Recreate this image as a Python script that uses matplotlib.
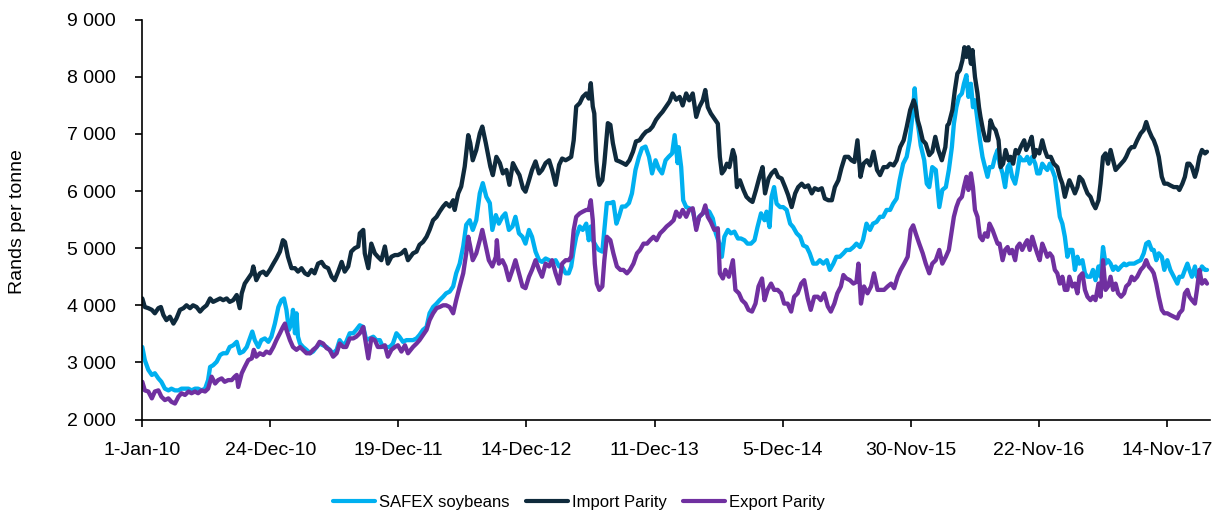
import matplotlib
matplotlib.use("Agg")
import matplotlib.pyplot as plt
from matplotlib.ticker import FixedLocator, FuncFormatter

# ---------------- data (trading-day number, Rand per tonne) ----------------
tick_days = [0, 255, 510, 765, 1020, 1275, 1530, 1785, 2040]
tick_labels = ["1-Jan-10", "24-Dec-10", "19-Dec-11", "14-Dec-12", "11-Dec-13",
               "5-Dec-14", "30-Nov-15", "22-Nov-16", "14-Nov-17"]
y_ticks = [2000, 3000, 4000, 5000, 6000, 7000, 8000, 9000]

safex = [(0,3270),(5,3040),(12,2870),(19,2780),(25,2810),(32,2720),(38,2660),(45,2540),(52,2510),(58,2540),
 (65,2510),(72,2510),(78,2540),(85,2540),(92,2540),(98,2510),(105,2540),(111,2540),(118,2510),(125,2540),
 (131,2690),(135,2920),(141,2950),(148,3010),(155,3130),(161,3160),(168,3160),(174,3270),(181,3300),(188,3360),
 (194,3160),(201,3190),(208,3270),(214,3420),(219,3540),(224,3390),(231,3270),(237,3390),(244,3420),(251,3360),
 (257,3450),(264,3680),(271,3970),(277,4090),(282,4120),(287,3920),(292,3570),(297,3680),(300,3920),(304,3510),
 (307,3860),(310,3450),(314,3330),(320,3270),(327,3220),(334,3160),(340,3190),(347,3270),(353,3330),(360,3300),
 (367,3270),(373,3220),(380,3160),(387,3220),(393,3390),(400,3300),(406,3360),(413,3510),(420,3510),(426,3570),
 (433,3650),(440,3620),(446,3390),(453,3420),(460,3450),(466,3390),(473,3390),(479,3270),(486,3270),(493,3270),
 (499,3330),(506,3510),(512,3450),(519,3360),(526,3390),
 (539,3390),(546,3420),(552,3480),(559,3570),(566,3620),(572,3860),(579,3970),(586,4030),(592,4090),(599,4150),
 (605,4210),(612,4240),(619,4330),(625,4560),(632,4730),(639,5030),(645,5410),(652,5490),(658,5320),(665,5490),
 (672,5960),(678,6140),(685,5900),(692,5790),(697,5320),(704,5580),(710,5430),(717,5550),(723,5610),(730,5320),
 (737,5380),(743,5550),(750,5260),(757,5200),(763,5080),(770,5320),(776,5200),(783,4940),(790,4790),(796,4760),
 (803,4820),(810,4790),(816,4760),(823,4790),(830,4680),(836,4680),(843,4560),(849,4560),(854,4680),(859,4970),
 (864,5200),(871,5380),(877,5320),(884,5430),(889,5140),(893,5380),(897,5140),(904,5030),(909,4970),(916,4940),
 (920,5320),(925,5790),(932,5790),(938,5810),(944,5430),(949,5550),(955,5730),(962,5730),(969,5790),(975,5960),
 (982,6370),(989,6600),(995,6750),(1002,6780),(1009,6600),(1015,6310),(1022,6540),(1028,6400),(1035,6310),(1042,6540),
 (1048,6600),(1055,6660),(1060,6980),(1066,6490),(1068,6770),(1073,6420),
 (1077,5840),(1083,5720),(1089,5700),(1096,5670),(1103,5370),(1109,5550),(1116,5610),(1123,5670),(1129,5640),(1136,5520),
 (1142,5260),(1149,5080),(1154,4850),(1159,5200),(1166,5320),(1172,5260),(1179,5290),(1186,5170),(1192,5170),(1199,5140),
 (1205,5080),(1212,5080),(1219,5140),(1225,5370),(1232,5610),(1239,5490),(1243,5640),(1249,5370),(1253,5900),(1258,6070),
 (1263,5780),(1270,5720),(1276,5720),(1283,5670),(1290,5430),(1296,5370),(1303,5260),(1310,5200),(1316,5050),(1323,5020),
 (1329,4910),(1336,4730),(1343,4730),(1349,4790),(1356,4730),(1363,4790),(1369,4620),(1376,4730),(1382,4850),(1389,4850),
 (1396,4910),(1402,4970),(1409,4970),(1416,5020),(1422,5080),(1429,5020),(1435,5140),(1442,5430),(1449,5320),(1455,5430),
 (1462,5460),(1469,5550),(1475,5550),(1482,5670),(1489,5670),(1495,5780),(1502,5870),(1508,6190),(1515,6480),(1522,6600),
 (1528,6890),(1534,7360),(1538,7800),(1542,7300),(1546,7070),(1550,6800),(1557,6540),(1562,6130),(1567,6070),(1573,6420),
 (1580,6370),(1587,5720),(1593,6020),(1600,6070),
 (1606,6370),(1612,6770),(1616,7180),(1621,7470),(1626,7650),(1632,7710),(1636,7880),(1641,8030),(1645,7650),(1650,7880),
 (1654,7470),(1658,7590),(1663,7240),(1668,6890),(1673,6600),(1678,6420),(1683,6250),(1687,6420),(1693,6420),(1698,6600),
 (1703,6720),(1707,6480),(1713,6310),(1718,6070),(1723,6420),(1727,6480),(1732,6250),(1738,6130),(1742,6310),(1747,6600),
 (1752,6540),(1758,6540),(1762,6600),(1767,6480),(1772,6600),(1778,6480),(1782,6310),(1787,6310),(1792,6480),(1797,6420),
 (1802,6370),(1807,6480),(1812,6370),(1817,6250),(1822,5900),(1827,5550),(1832,5430),(1837,5200),(1842,4850),(1846,4970),
 (1852,4970),(1857,4620),(1862,4850),(1866,4730),(1872,4790),(1877,4560),(1882,4500),(1888,4500),(1893,4620),(1898,4440),
 (1904,4680),(1908,4500),(1913,5020),(1918,4730),(1923,4790),(1928,4730),(1933,4620),(1938,4680),(1943,4620),(1949,4680),
 (1955,4730),(1959,4700),(1965,4730),(1970,4730),(1975,4730),(1981,4760),(1988,4790),(1994,4910),(1999,5080),(2004,5110),
 (2010,4970),(2014,4970),(2019,4790),(2024,4910),(2030,4850),(2035,4620),(2041,4790),(2047,4620),(2054,4500),(2061,4380),
 (2065,4500),(2071,4500),(2076,4620),(2081,4730),(2085,4620),(2090,4500),(2096,4680),(2100,4500),(2105,4560),(2110,4680),
 (2116,4620),(2120,4620)]

import_parity = [(0,4120),(5,3970),(12,3950),(19,3920),(25,3860),(32,3950),(37,3970),(42,3830),(48,3740),(55,3800),
 (62,3680),(68,3770),(75,3920),(82,3950),(88,4000),(95,3950),(101,4000),(108,3970),(115,3890),(121,3950),
 (128,4000),(135,4120),(141,4060),(148,4090),(155,4120),(161,4090),(168,4120),(174,4060),(181,4090),(188,4180),
 (194,3950),(198,4210),(204,4380),(211,4470),(218,4560),(221,4680),(227,4440),(234,4560),(241,4590),(247,4530),
 (254,4620),(261,4730),(267,4820),(274,4940),(280,5140),(284,5110),(290,4850),(297,4650),(304,4650),(310,4590),
 (317,4650),(324,4560),(330,4530),(337,4620),(343,4560),(350,4730),(357,4760),(363,4680),(370,4650),(377,4500),
 (383,4440),(390,4590),(397,4760),(403,4590),(410,4680),(416,4940),(423,5000),(430,5030),(433,5260),(440,5320),
 (443,4910),(450,4650),(456,5080),(463,4910),(469,4850),(476,4790),(483,5030),(489,4730),(496,4850),(503,4880),
 (509,4880),(516,4910),(523,4970),(529,4790),
 (539,4910),(546,4940),(552,5060),(559,5110),(566,5200),(572,5320),(579,5490),(586,5550),(592,5640),(599,5730),
 (605,5790),(612,5730),(619,5840),(622,5670),(629,5960),(635,6080),(642,6430),(649,6980),(653,6840),(658,6540),
 (665,6720),(672,7010),(677,7130),(684,6840),(688,6660),(693,6430),(698,6280),(705,6600),(712,6490),(718,6310),
 (725,6370),(731,6110),(738,6490),(745,6370),(751,6280),(758,6050),(763,5990),(770,6190),(776,6370),(783,6520),
 (790,6310),(796,6370),(803,6490),(810,6540),(816,6370),(823,6110),(830,6460),(836,6570),(843,6540),(849,6570),
 (854,6600),(859,6890),(864,7480),(871,7540),(877,7650),(884,7710),(889,7620),(893,7890),(897,7480),(900,7360),
 (904,6540),(907,6250),(910,6110),(916,6190),(920,6490),(927,7190),(932,7160),(937,6840),(944,6540),(950,6520),
 (957,6490),(963,6460),(970,6540),(977,6690),(983,6870),(990,6890),(997,6980),(1003,7040),(1010,7070),(1016,7130),
 (1023,7250),(1030,7330),(1036,7390),(1043,7480),(1050,7570),(1056,7710),(1063,7600),(1070,7650),
 (1076,7500),(1083,7710),(1089,7590),(1096,7710),(1103,7300),(1109,7470),(1116,7590),(1121,7770),(1126,7470),(1132,7360),
 (1139,7270),(1146,7180),(1150,6600),(1154,6310),(1159,6370),(1164,6480),(1169,6420),(1176,6720),(1180,6600),(1184,6070),
 (1190,6190),(1197,6020),(1203,5900),(1210,5840),(1215,5810),(1222,6020),(1229,6250),(1235,6420),(1240,5960),(1247,6220),
 (1253,6310),(1260,6370),(1266,6250),(1273,6220),(1280,6070),(1286,5930),(1293,5720),(1300,5960),(1306,6070),(1313,6130),
 (1319,6070),(1326,6100),(1333,5960),(1339,6050),(1346,6020),(1353,6050),(1359,5870),(1366,5840),(1373,5840),(1379,6070),
 (1386,6190),(1392,6400),(1399,6600),(1406,6600),(1412,6540),(1418,6510),(1424,6890),(1430,6250),(1436,6480),(1443,6540),
 (1449,6450),(1456,6690),(1463,6370),(1469,6280),(1476,6420),(1483,6420),(1489,6480),(1496,6450),(1502,6540),(1509,6770),
 (1516,6890),(1522,7120),(1529,7420),(1536,7590),(1540,7470),(1544,7240),(1548,7120),(1554,6890),(1560,6830),(1567,6630),
 (1573,6690),(1579,6950),(1585,6720),(1592,6540),(1599,6770),(1603,7150),
 (1606,7180),(1613,7420),(1618,7770),(1623,8060),(1628,8120),(1633,8290),(1637,8520),(1641,8350),(1645,8520),(1650,8230),
 (1653,8470),(1658,8000),(1663,7710),(1666,7470),(1669,7300),(1674,7070),(1679,6890),(1685,6890),(1689,7240),(1694,7120),
 (1699,7070),(1705,6890),(1709,6420),(1714,6480),(1719,6720),(1725,6540),(1729,6600),(1734,6480),(1739,6720),(1744,6660),
 (1749,6770),(1756,6890),(1760,6720),(1766,6830),(1771,6950),(1776,6600),(1780,6720),(1786,6660),(1792,6890),(1797,6720),
 (1802,6600),(1809,6600),(1815,6480),(1822,6420),(1827,6250),(1832,6130),(1837,5900),(1842,6070),(1846,6190),(1852,6070),
 (1857,5960),(1862,6070),(1866,6250),(1872,6190),(1877,6070),(1882,5960),(1888,5900),(1893,5780),(1898,5700),(1904,5840),
 (1908,6130),(1913,6600),(1918,6660),(1923,6480),(1928,6720),(1933,6540),(1938,6370),(1943,6420),(1949,6480),(1955,6540),
 (1959,6600),(1965,6720),(1970,6770),(1975,6770),(1981,6890),(1988,7010),(1994,7070),(1999,7210),(2004,7070),(2010,6950),
 (2014,6890),(2019,6770),(2024,6600),(2030,6250),(2035,6130),(2041,6130),(2047,6100),(2054,6070),(2061,6070),(2065,6020),
 (2071,6130),(2076,6250),(2081,6480),(2085,6480),(2090,6420),(2096,6250),(2100,6370),(2105,6600),(2110,6720),(2116,6660),
 (2120,6690)]

export_parity = [(0,2660),(5,2510),(12,2490),(19,2370),(25,2490),(32,2510),(38,2400),(45,2340),(52,2370),(58,2310),
 (65,2280),(72,2400),(78,2460),(85,2430),(92,2490),(98,2460),(105,2490),(111,2460),(118,2510),(125,2490),
 (131,2540),(138,2750),(145,2630),(151,2690),(158,2720),(164,2660),(171,2690),(178,2690),(184,2750),(188,2780),
 (191,2570),(198,2810),(204,2920),(211,3040),(218,3070),(222,3220),(227,3100),(234,3160),(241,3130),(247,3190),
 (254,3160),(261,3270),(267,3390),(274,3510),(280,3620),(284,3680),(287,3570),(294,3390),(300,3270),(307,3220),
 (314,3270),(320,3220),(327,3160),(334,3160),(340,3220),(347,3270),(353,3360),(360,3330),(367,3250),(373,3220),
 (380,3100),(387,3160),(393,3330),(400,3270),(406,3270),(413,3420),(420,3420),(426,3450),(433,3510),(440,3620),
 (443,3450),(450,3070),(456,3420),(463,3390),(469,3270),(476,3270),(483,3300),(489,3100),(496,3220),(503,3270),
 (509,3300),(516,3190),(523,3300),(529,3160),
 (539,3270),(546,3330),(552,3390),(559,3480),(566,3570),(572,3740),(579,3860),(586,3950),(592,3970),(599,4000),
 (605,4000),(612,3970),(619,3860),(625,4090),(632,4330),(639,4560),(645,4910),(649,5200),(653,5030),(658,4790),
 (665,4910),(672,5140),(677,5320),(684,5030),(690,4790),(697,4680),(704,4850),(706,5140),(710,4730),(717,4790),
 (723,4680),(730,4440),(737,4620),(743,4790),(750,4560),(757,4330),(763,4300),(770,4500),(776,4620),(783,4790),
 (790,4620),(796,4500),(803,4730),(810,4680),(816,4790),(823,4560),(830,4380),(836,4730),(843,4790),(849,4790),
 (854,4850),(859,5320),(864,5550),(871,5610),(877,5640),(884,5670),(889,5670),(893,5840),(897,5490),(901,4730),
 (905,4380),(910,4270),(916,4330),(920,4790),(925,5200),(932,5140),(938,4910),(945,4680),(952,4620),(958,4620),
 (965,4560),(971,4620),(978,4730),(985,4910),(991,4970),(998,5080),(1005,5080),(1011,5140),(1018,5200),(1024,5140),
 (1031,5260),(1038,5320),(1044,5380),(1051,5430),(1058,5490),(1063,5640),(1070,5550),
 (1076,5670),(1083,5550),(1089,5670),(1096,5700),(1103,5320),(1109,5550),(1116,5610),(1121,5750),(1126,5550),(1132,5460),
 (1139,5320),(1146,5350),(1150,4560),(1156,4470),(1161,4620),(1168,4500),(1176,4790),(1181,4270),(1188,4210),(1194,4090),
 (1201,4030),(1207,3920),(1214,3890),(1221,4030),(1227,4330),(1234,4470),(1239,4090),(1245,4270),(1252,4380),(1258,4270),
 (1265,4270),(1272,4210),(1278,4030),(1285,4030),(1292,3890),(1298,4150),(1305,4210),(1312,4380),(1318,4440),(1325,4120),
 (1331,3920),(1338,4150),(1345,4150),(1351,4090),(1358,4210),(1365,3980),(1371,3890),(1378,4030),(1384,4210),(1391,4330),
 (1396,4530),(1402,4470),(1409,4440),(1416,4380),(1422,4410),(1426,4730),(1431,4030),(1437,4330),(1444,4210),(1451,4330),
 (1457,4560),(1464,4270),(1471,4270),(1477,4270),(1484,4330),(1491,4380),(1497,4300),(1504,4500),(1510,4620),(1517,4730),
 (1524,4850),(1530,5320),(1535,5400),(1540,5260),(1547,5080),(1554,4910),(1560,4730),(1567,4560),(1573,4730),(1580,4790),
 (1587,4970),(1593,4730),(1600,4850),
 (1606,4970),(1612,5320),(1616,5550),(1621,5720),(1626,5840),(1632,5900),(1636,6070),(1641,6250),(1645,6020),(1650,6310),
 (1654,6070),(1658,5670),(1663,5550),(1668,5200),(1673,5140),(1678,5260),(1683,5200),(1687,5430),(1693,5320),(1698,5200),
 (1703,5080),(1707,5080),(1713,4790),(1718,4970),(1723,5020),(1727,4910),(1732,4970),(1738,4790),(1742,5020),(1747,5080),
 (1752,4970),(1758,5080),(1762,5140),(1767,4970),(1772,5200),(1778,5020),(1782,4910),(1787,4790),(1792,5080),(1797,4970),
 (1802,4850),(1807,4910),(1812,4850),(1817,4620),(1822,4560),(1827,4380),(1832,4500),(1837,4270),(1842,4270),(1846,4500),
 (1852,4330),(1857,4380),(1862,4210),(1866,4500),(1872,4560),(1877,4270),(1882,4150),(1888,4090),(1893,4150),(1898,4090),
 (1904,4380),(1908,4150),(1913,4790),(1918,4270),(1923,4330),(1928,4500),(1933,4270),(1938,4380),(1943,4210),(1949,4150),
 (1955,4210),(1959,4330),(1965,4380),(1970,4500),(1975,4440),(1981,4500),(1988,4620),(1994,4680),(1999,4790),(2004,4680),
 (2010,4620),(2014,4560),(2019,4380),(2024,4150),(2030,3920),(2035,3860),(2041,3860),(2047,3830),(2054,3800),(2061,3770),
 (2065,3860),(2071,3920),(2076,4210),(2081,4270),(2085,4150),(2090,4090),(2096,4030),(2100,4270),(2105,4620),(2110,4380),
 (2116,4440),(2120,4380)]

series_names = ["SAFEX soybeans", "Import Parity", "Export Parity"]
series_colors = ["#00B0F0", "#0F2A3C", "#7030A0"]

# ---------------- style ----------------
plt.rcParams["font.family"] = ["Liberation Sans", "DejaVu Sans"]
fs = 14
plt.rcParams["font.size"] = fs

fig = plt.figure(figsize=(12.14, 5.16), dpi=100)
ax = fig.add_axes([142.3 / 1214, 1 - 419.5 / 516, (1210 - 142.3) / 1214, (419.5 - 19.8) / 516])

lines = []
for data, name, col in zip([safex, import_parity, export_parity], series_names, series_colors):
    xs = [d for d, v in data]
    ys = [v for d, v in data]
    ln, = ax.plot(xs, ys, color=col, lw=3.1, label=name,
                  solid_joinstyle="round", solid_capstyle="round")
    lines.append(ln)

ax.set_xlim(0, 2126)
ax.set_ylim(2000, 9000)
ax.xaxis.set_major_locator(FixedLocator(tick_days))
ax.set_xticklabels(tick_labels)
ax.yaxis.set_major_locator(FixedLocator(y_ticks))
ax.yaxis.set_major_formatter(FuncFormatter(lambda v, p: f"{int(v):,}".replace(",", " ")))

for s in ["top", "right"]:
    ax.spines[s].set_visible(False)
for s in ["left", "bottom"]:
    ax.spines[s].set_linewidth(1.2)
    ax.spines[s].set_color("black")
ax.tick_params(axis="y", direction="out", length=5, width=1.2, pad=14, labelsize=fs)
ax.tick_params(axis="x", direction="out", length=5, width=1.2, pad=11, labelsize=fs)

fig.text(18 / 1214, 1 - 221.5 / 516, "Rands per tonne", rotation=90,
         ha="center", va="center", fontsize=fs)

leg = fig.legend(handles=lines, labels=series_names, loc="center", bbox_to_anchor=(0.477, 0.027),
                 ncol=3, frameon=False, handlelength=2.5, handletextpad=0.25, columnspacing=1.0,
                 fontsize=12)
for h in leg.get_lines():
    h.set_linewidth(3.0)

fig.savefig("out.png", dpi=100)
